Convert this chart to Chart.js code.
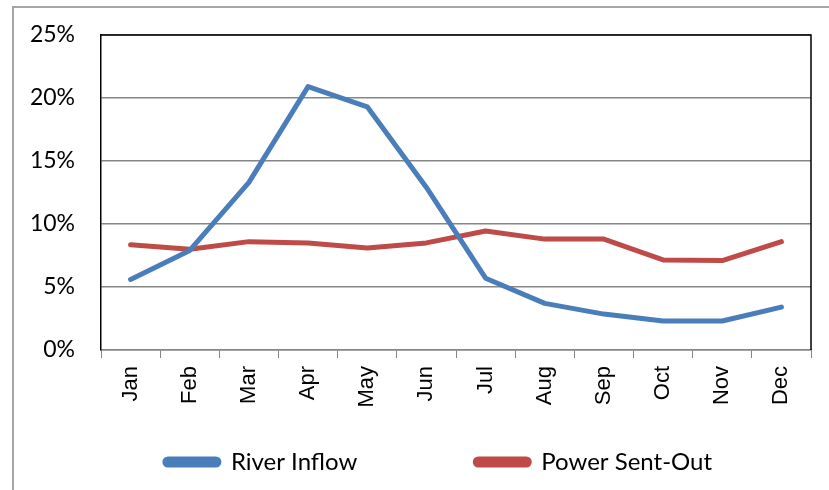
<!DOCTYPE html>
<html>
<head>
<meta charset="utf-8">
<script src="https://cdn.jsdelivr.net/npm/chart.js@4"></script>
<style>
  html, body { margin: 0; padding: 0; background: #fff; }
  #wrap { position: relative; width: 829px; height: 490px; overflow: hidden; }
  #frame { position: absolute; left: 12px; top: 6px; width: 900px; height: 600px;
           border-top: 2px solid #a6a6a6; border-left: 2px solid #a6a6a6; }
  canvas { position: absolute; left: 0; top: 0; }
</style>
</head>
<body>
<div id="wrap">
  <div id="frame"></div>
  <canvas id="chart" width="829" height="490"></canvas>
</div>
<script>
// months on the x axis
const months = ['Jan', 'Feb', 'Mar', 'Apr', 'May', 'Jun', 'Jul', 'Aug', 'Sep', 'Oct', 'Nov', 'Dec'];

// share of the year per month, in %
const riverInflow = [5.6, 7.9, 13.3, 20.9, 19.3, 12.9, 5.7, 3.7, 2.85, 2.3, 2.3, 3.4];
const powerSentOut = [8.35, 8.0, 8.6, 8.5, 8.1, 8.5, 9.45, 8.8, 8.8, 7.15, 7.1, 8.6];

const seriesNames = ['River Inflow', 'Power Sent-Out'];

const LEGEND_PAD = 118;
const LEGEND_DX = 33;

// legend spacing: the wide gap between items would push the row down,
// so pull the box up while it draws
const legendShift = {
  id: 'legendShift',
  beforeLayout(chart) {
    const lg = chart.legend;
    if (lg && !lg._shifted) {
      const draw = lg.draw;
      lg.draw = function (area) {
        const { top, height, left, right } = this;
        this.top = top - LEGEND_PAD;
        this.height = height + LEGEND_PAD;
        this.left = left + LEGEND_DX;
        this.right = right + LEGEND_DX;
        draw.call(this, area);
        Object.assign(this, { top, height, left, right });
      };
      lg._shifted = true;
    }
  }
};

// black top and right edges of the plot area
const plotEdges = {
  id: 'plotEdges',
  beforeDatasetsDraw(chart) {
    const { ctx, chartArea: a } = chart;
    ctx.save();
    ctx.strokeStyle = '#000';
    ctx.lineWidth = 1.5;
    ctx.beginPath();
    ctx.moveTo(a.left, a.top);
    ctx.lineTo(a.right, a.top);
    ctx.lineTo(a.right, a.bottom);
    ctx.stroke();
    ctx.restore();
  }
};

new Chart(document.getElementById('chart'), {
  type: 'line',
  data: {
    labels: months,
    datasets: [{
      label: seriesNames[0],
      data: riverInflow,
      borderColor: '#4a7ebb',
      backgroundColor: '#4a7ebb',
      borderWidth: 5,
      pointRadius: 0,
      tension: 0,
      borderCapStyle: 'round',
      borderJoinStyle: 'round'
    }, {
      label: seriesNames[1],
      data: powerSentOut,
      borderColor: '#be4b48',
      backgroundColor: '#be4b48',
      borderWidth: 5,
      pointRadius: 0,
      tension: 0,
      borderCapStyle: 'round',
      borderJoinStyle: 'round'
    }]
  },
  options: {
    responsive: false,
    animation: false,
    events: [],
    layout: { padding: { top: 35, right: 18, left: 0, bottom: 0 } },
    plugins: {
      tooltip: { enabled: false },
      legend: {
        position: 'bottom',
        maxHeight: 40,
        labels: {
          boxWidth: 54,
          boxHeight: 6,
          useBorderRadius: true,
          borderRadius: 3,
          padding: LEGEND_PAD,
          color: '#000',
          font: { family: 'Lato', size: 24 }
        }
      }
    },
    scales: {
      x: {
        offset: true,
        afterFit: s => { s.height = 100; },
        grid: {
          offset: true,
          drawOnChartArea: false,
          drawTicks: true,
          tickLength: 8,
          color: '#868686'
        },
        border: { color: '#868686', width: 1.5 },
        ticks: {
          autoSkip: false,
          maxRotation: 90,
          minRotation: 90,
          padding: 8,
          color: '#000',
          font: { family: 'Liberation Sans', size: 22 }
        }
      },
      y: {
        min: 0,
        max: 25,
        afterFit: s => { s.width = 101; },
        // invisible tick marks give the gap between labels and axis
        grid: {
          drawTicks: true,
          tickLength: 26,
          tickColor: 'rgba(0,0,0,0)',
          color: '#868686',
          lineWidth: 1.5
        },
        border: { color: '#000', width: 1.5 },
        ticks: {
          stepSize: 5,
          padding: 0,
          color: '#000',
          font: { family: 'Lato', size: 23 },
          callback: v => v + '%'
        }
      }
    }
  },
  plugins: [legendShift, plotEdges]
});
</script>
</body>
</html>
